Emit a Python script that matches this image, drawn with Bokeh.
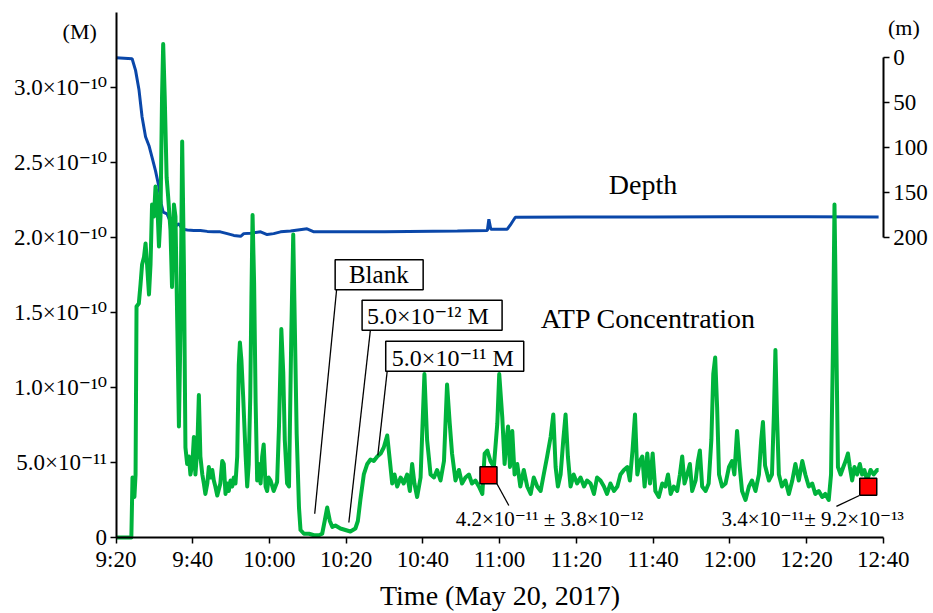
from bokeh.plotting import figure
from bokeh.models import Range1d, LinearAxis, FixedTicker
from bokeh.embed import file_html
from bokeh.resources import INLINE
from bokeh.core.properties import value

FONT = "Liberation Serif, DejaVu Serif"

# ---- axis ticks / labels ----
time_ticks = [0, 20, 40, 60, 80, 100, 120, 140, 160, 180, 200]   # minutes after 9:20
time_labels = ["9:20", "9:40", "10:00", "10:20", "10:40", "11:00",
               "11:20", "11:40", "12:00", "12:20", "12:40"]
atp_ticks = [0, 5, 10, 15, 20, 25, 30]                              # units of 1e-11 M
atp_labels = ["0", "5.0×10⁻¹¹", "1.0×10⁻¹⁰", "1.5×10⁻¹⁰",
              "2.0×10⁻¹⁰", "2.5×10⁻¹⁰", "3.0×10⁻¹⁰"]
depth_ticks = [0, 50, 100, 150, 200]                                # m

# ---- ATP concentration trace (minutes after 9:20, 1e-11 M) ----
atp_time = [
    0, 4.0, 4.3, 4.8, 5.1, 5.35, 5.95, 6.4, 6.8, 7.3, 7.7, 8.1, 8.6, 9.0, 9.4, 9.9,
    10.3, 10.7, 11.2, 11.6, 12.0, 12.3, 12.7, 13.2, 13.6, 14.2, 14.6, 15.1, 15.5,
    16.0, 16.4, 16.8, 17.25, 17.7, 18.1, 18.55, 19.0, 19.4, 19.9, 20.3, 20.7, 21.2,
    21.6, 22.0, 22.5, 22.9, 23.3, 23.8, 24.2, 24.6, 25.1, 25.5, 25.9, 26.4, 27.2,
    27.7, 28.1, 28.55, 29.0, 29.4, 29.85, 30.3, 30.7, 31.15, 31.6, 32.0, 32.3, 32.7,
    33.15, 33.8, 34.2, 34.6, 35.0, 35.3, 35.6, 36.0, 36.4, 36.8, 37.2, 37.7, 38.1,
    38.5, 39.0, 39.4, 39.8, 40.3, 41.1, 42.0, 42.5, 43.1, 43.6, 44.0, 44.6, 45.1,
    45.7, 46.2, 46.5, 47.1, 47.7, 48.1, 49.0, 50.3, 51.6, 52.9, 53.75, 54.4, 55.05,
    55.75, 56.4, 57.2, 58.5, 59.8, 61.1, 62.4, 63.05, 63.7, 64.6, 65.5, 66.35, 67.2,
    68.1, 69.0, 69.8, 70.7, 71.4, 72.0, 72.6, 73.3, 74.2, 75.0, 75.9, 76.6, 77.2,
    77.8, 78.5, 79.4, 80.4, 81.1, 82.0, 82.9, 83.7, 84.6, 85.5, 86.3, 87.0, 87.6,
    88.5, 89.4, 90.2, 91.1, 92.0, 92.8, 93.7, 94.6, 95.5, 96.1, 96.8, 97.6, 98.5,
    99.4, 99.9, 100.7, 101.3, 101.8, 102.2, 102.7, 103.3, 103.9, 104.6, 105.4, 106.3,
    107.2, 108.1, 108.9, 109.8, 110.7, 111.5, 112.4, 113.3, 114.0, 114.6, 115.2,
    115.9, 116.6, 117.2, 117.8, 118.5, 119.3, 120.2, 121.1, 122.0, 122.8, 123.7,
    124.6, 125.4, 126.3, 127.2, 128.0, 128.9, 129.8, 130.7, 131.5, 132.4, 133.3,
    133.95, 134.65, 135.3, 135.9, 136.6, 137.2, 137.8, 138.5, 139.2, 139.9, 140.6,
    141.5, 142.4, 143.2, 143.9, 144.6, 145.4, 146.3, 147.0, 147.6, 148.2, 148.9,
    149.6, 150.2, 151.1, 151.7, 152.2, 152.8, 153.7, 154.5, 155.2, 155.7, 156.2,
    156.7, 157.2, 158.0, 158.9, 159.8, 160.6, 161.2, 161.9, 162.6, 163.2, 164.1,
    165.0, 165.8, 166.7, 167.6, 168.2, 168.65, 169.2, 170.2, 171.0, 171.5, 171.9,
    172.3, 172.8, 173.6, 174.5, 175.4, 176.3, 177.1, 178.0, 178.9, 179.7, 180.6,
    181.5, 182.3, 183.2, 184.1, 184.9, 185.8, 186.4, 186.9, 187.3, 187.8, 188.2,
    188.9, 189.6, 190.2, 190.8, 191.3, 191.9, 192.5, 193.2, 193.9, 194.5, 195.1,
    195.8, 196.7, 197.5, 198.4, 198.8,
]
atp_value = [
    0, 0, 4.0, 2.7, 4.2, 15.4, 15.6, 16.9, 18.2, 18.7, 19.6, 18.2, 16.2, 18.2, 22.2, 21.4,
    23.4, 22.7, 19.4, 21.4, 29.4, 32.9, 29.4, 24.0, 22.7, 20.5, 16.7, 22.2, 21.4,
    13.8, 7.4, 13.8, 26.4, 18.2, 6.0, 4.9, 5.4, 4.2, 4.9, 6.7, 4.2, 6.0,
    9.5, 5.4, 4.2, 3.6, 2.9, 3.6, 4.7, 4.0, 4.5, 3.8, 3.4, 2.8, 3.6,
    5.1, 4.9, 2.9, 3.6, 3.1, 3.8, 3.4, 4.0, 3.6, 5.4, 11.5, 13.0, 11.8,
    9.4, 5.4, 3.4, 4.9, 9.4, 16.0, 21.5, 17.0, 9.0, 3.8, 4.9, 3.6, 5.4,
    6.2, 3.4, 3.1, 4.0, 3.8, 3.1, 3.7, 7.5, 13.9, 11.0, 6.5, 3.6, 3.4,
    13.6, 20.2, 15.8, 6.9, 2.0, 0.5, 0.25, 0.25, 0.15, 0.15, 0.25, 1.1, 2.0,
    1.1, 0.7, 0.8, 0.6, 0.5, 0.4, 0.6, 1.1, 2.5, 4.2, 4.9, 5.2, 5.1,
    5.4, 5.6, 6.0, 6.8, 5.1, 3.6, 4.2, 3.4, 4.0, 3.6, 4.2, 3.1, 4.9,
    3.6, 2.7, 4.0, 10.9, 6.5, 4.2, 4.0, 4.5, 3.8, 5.1, 10.2, 7.6, 5.6,
    3.8, 4.5, 3.6, 4.0, 4.2, 3.6, 3.8, 3.4, 2.9, 5.6, 5.8, 5.1, 4.7,
    7.6, 10.9, 8.0, 4.9, 6.5, 7.4, 4.7, 7.1, 4.2, 4.9, 3.4, 4.5,
    3.4, 2.9, 4.0, 3.4, 3.1, 4.2, 5.4, 6.7, 8.2, 4.7, 3.4,
    4.2, 6.5, 8.2, 5.4, 3.4, 4.2, 3.6, 4.0, 3.4, 3.8, 3.6,
    2.9, 4.0, 3.8, 3.4, 2.9, 3.6, 3.1, 3.4, 4.2, 4.5, 4.7,
    3.8, 5.8, 8.2, 4.2, 5.1, 5.4, 3.4, 5.6, 3.6, 5.6, 3.1,
    2.7, 3.6, 3.4, 4.2, 2.9, 3.4, 3.1, 4.2, 5.4, 3.6, 4.2,
    4.9, 3.1, 3.8, 5.1, 5.8, 3.4, 3.1, 3.6, 6.5, 10.9, 12.0,
    8.7, 4.2, 3.4, 3.6, 4.7, 5.1, 4.2, 7.1, 4.7, 3.1, 2.5,
    3.4, 3.8, 3.1, 4.2, 6.5, 7.7, 4.8, 3.8, 4.2, 8.2, 12.5,
    8.2, 4.2, 3.4, 3.8, 2.9, 3.8, 4.9, 3.8, 5.1, 4.2, 3.4,
    3.6, 2.9, 3.1, 2.7, 2.9, 2.5, 4.2, 12.7, 22.2, 12.7, 4.7,
    4.2, 4.7, 5.1, 5.6, 4.7, 3.8, 4.7, 4.2, 4.9, 4.2, 4.5,
    3.8, 4.5, 4.2, 4.5, 4.5,
]

# ---- depth trace (minutes after 9:20, m) ----
depth_time = [0, 4.2, 5.1, 6.0, 6.8, 7.7, 8.6, 9.4, 10.3, 11.2, 11.8, 12.3, 13.3, 14.2,
              15.1, 16.4, 17.3, 18.6, 20.3, 22.0, 23.8, 25.5, 27.2, 29.0, 30.7, 32.5,
              33.3, 35.1, 37.7, 39.4, 41.1, 42.9, 45.5, 49.8, 51.6, 70.0, 89.0, 96.8,
              97.2, 97.7, 102.0, 103.0, 104.1, 120.0, 140.0, 160.0, 180.0, 198.8]
depth_value = [0, 1, 14, 36, 66, 88, 98, 111, 126, 144, 163, 172, 174, 183,
               189, 185, 191, 192, 192.5, 192.5, 193.5, 194, 194, 196, 198, 199,
               196, 195.5, 194, 197, 196, 194, 193, 190.6, 194, 194, 193, 192.5,
               180, 191, 191, 185, 177.7, 177.5, 177.5, 177.2, 177.2, 177.5]

# ---- mean values (squares) ----
mean_time = [97.1, 196.1]
mean_value = [4.15, 3.38]
mean_labels = ["4.2×10⁻¹¹ ± 3.8×10⁻¹²", "3.4×10⁻¹¹± 9.2×10⁻¹³"]

# ---- standard annotations ----
std_labels = ["Blank", "5.0×10⁻¹² M", "5.0×10⁻¹¹ M"]

# frame covers the whole canvas; axes are pinned with fixed_location
p = figure(width=933, height=613, x_range=Range1d(-30.11, 213.11),
           y_range=Range1d(-5.067, 35.8), output_backend="svg", toolbar_location=None,
           title=None, min_border=0)
p.extra_y_ranges = {"depth": Range1d(start=619.5, end=-63.9)}
p.xgrid.visible = False
p.ygrid.visible = False
p.outline_line_color = None
p.background_fill_color = "white"
p.border_fill_color = "white"

def style_axis(ax, standoff):
    ax.axis_line_width = 2
    ax.axis_line_color = "black"
    ax.major_tick_line_width = 1.5
    ax.major_tick_line_color = "black"
    ax.major_tick_out = 6
    ax.major_tick_in = 0
    ax.minor_tick_line_color = None
    ax.major_label_text_font = FONT
    ax.major_label_text_font_size = "23px"
    ax.major_label_text_color = "black"
    ax.major_label_standoff = standoff

xa = p.xaxis[0]
xa.ticker = FixedTicker(ticks=time_ticks)
xa.major_label_overrides = dict(zip(time_ticks, time_labels))
xa.fixed_location = 0
xa.bounds = (0, 200)
style_axis(xa, 4)
xa.axis_label = "Time (May 20, 2017)"
xa.axis_label_text_font = FONT
xa.axis_label_text_font_size = "28px"
xa.axis_label_text_font_style = "normal"
xa.axis_label_text_color = "black"
xa.axis_label_standoff = 4

ya = p.yaxis[0]
ya.ticker = FixedTicker(ticks=atp_ticks)
ya.major_label_overrides = dict(zip(atp_ticks, atp_labels))
ya.fixed_location = 0
ya.bounds = (0, 35)
style_axis(ya, 3)

ra = LinearAxis(y_range_name="depth", ticker=FixedTicker(ticks=depth_ticks),
                bounds=(0, 200), fixed_location=200)
style_axis(ra, 4)
p.add_layout(ra, "right")

# depth line
p.line(depth_time, depth_value, y_range_name="depth", line_color="#0A47A9", line_width=3)
# ATP line
p.line(atp_time, atp_value, line_color="#00B33C", line_width=4, line_join="round")

# leader lines
p.segment(x0=[51.8, 60.7, 68.25, 99.3, 193.8], y0=[1.58, 1.0, 5.47, 3.58, 2.8],
          x1=[57.5, 66.3, 70.7, 102.4, 187.8], y1=[16.5, 13.8, 11.1, 2.13, 2.07],
          line_color="black", line_width=1.3)

# boxed labels
p.rect(x=[68.6, 82.4, 88.3], y=[17.51, 14.82, 12.09], width=[88, 140, 138], height=30,
       width_units="screen", height_units="screen",
       fill_color="white", line_color="black", line_width=1.5)
p.text(x=[68.5, 81.3, 87.8], y=[17.53, 14.75, 11.97], text=std_labels,
       text_font=value(FONT), text_font_size=["25px", "24px", "24px"], text_align="center",
       text_baseline="middle", text_color="black")

# squares
p.scatter(mean_time, mean_value, marker="square", size=17, fill_color="#FF0000",
          line_color="black", line_width=1.5)

# free texts
p.text(x=[113.0, 181.6, 137.4, 138.8, -9.46, 205.4],
       y=[1.2, 1.2, 23.55, 14.57, 33.75, 33.97],
       text=mean_labels + ["Depth", "ATP Concentration", "(M)", "(m)"],
       text_font=value(FONT), text_font_size=["21px", "21px", "28px", "28px", "22px", "22px"],
       text_align="center", text_baseline="middle", text_color="black")

open("out.html", "w").write(file_html(p, INLINE))
